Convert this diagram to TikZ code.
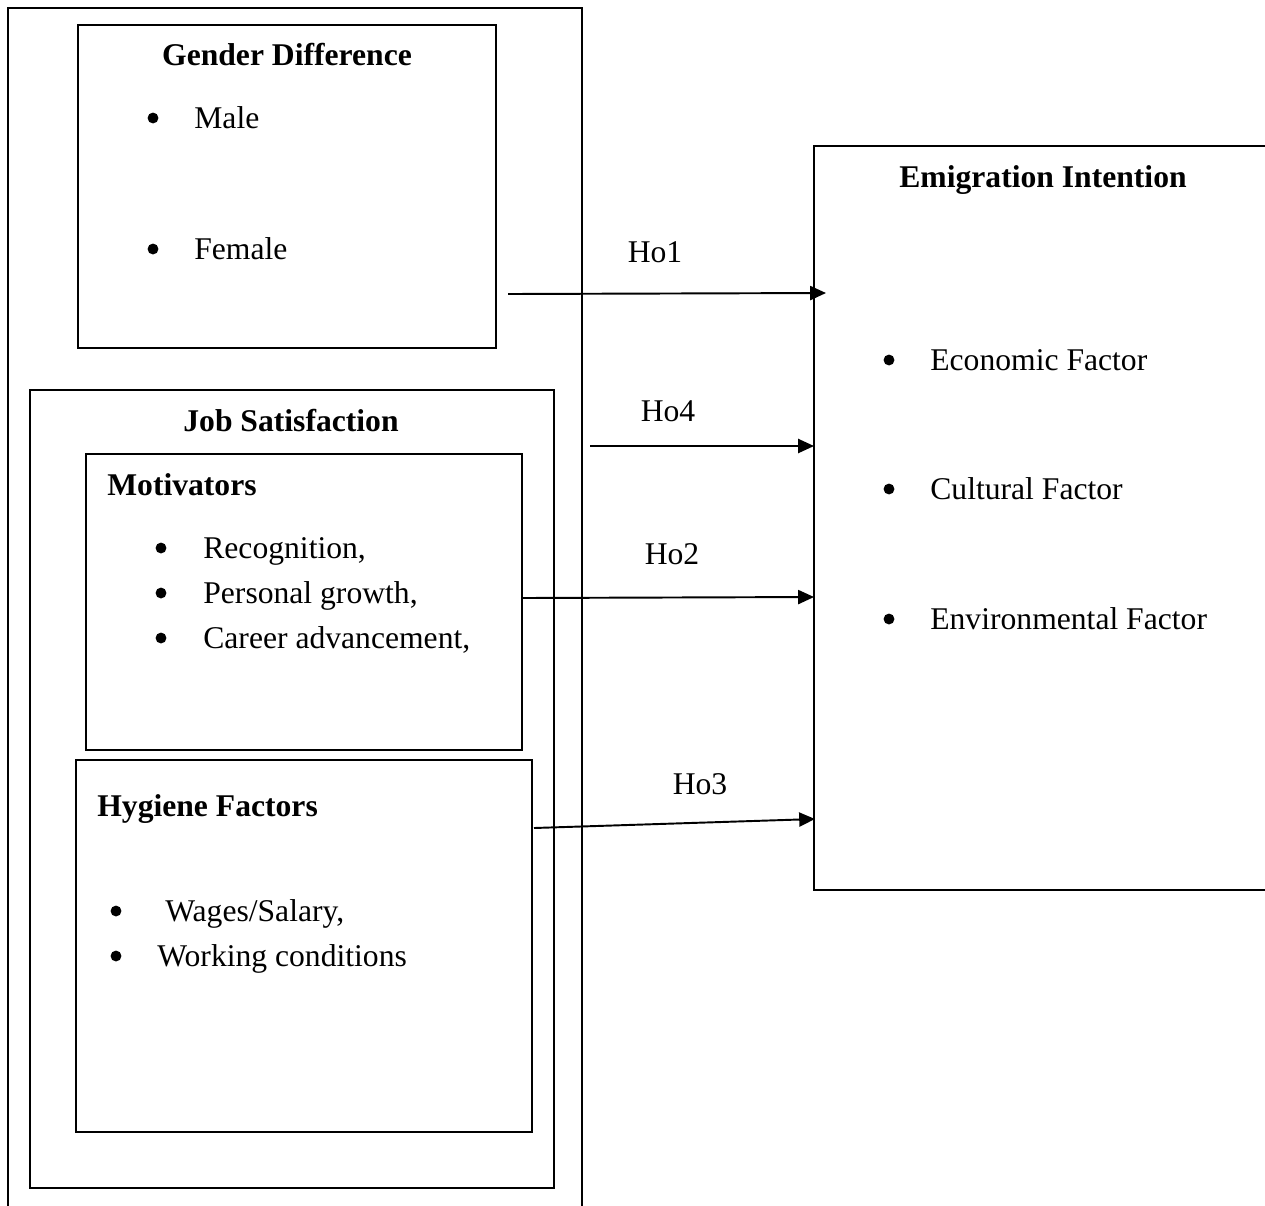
\documentclass[tikz,border=0pt]{standalone}
\usepackage{fontspec}
\setmainfont{Liberation Serif}
\usetikzlibrary{arrows.meta}

\begin{document}
\begin{tikzpicture}[x=0.02cm,y=-0.02cm,
   box/.style={draw=black,line width=1.1pt},
   heading/.style={font=\fontsize{18}{22}\selectfont\bfseries,inner sep=0pt,anchor=base},
   item/.style={font=\fontsize{18}{22}\selectfont,inner sep=0pt,anchor=base west},
   dot/.style={circle,fill=black,inner sep=0pt,minimum size=6.2pt},
   hyp/.style={font=\fontsize{18}{22}\selectfont,inner sep=0pt,anchor=base},
   link/.style={-{Triangle[length=9pt,width=8pt]},line width=1.1pt}]
   \useasboundingbox (0,0) rectangle (1265,1205);
   \clip (0,0) rectangle (1265,1205);
   % \draw[help lines,step=50] (0,0) grid (1265,1205);
   % outer frame, open at the bottom
   \draw[box] (8,1220) -- (8,8) -- (582,8) -- (582,1220);
   % left side boxes
   \draw[box] (78,25) rectangle (496,348);
   \draw[box] (30,390) rectangle (554,1188);
   \draw[box] (86,454) rectangle (522,750);
   \draw[box] (76,760) rectangle (532,1132);
   % right box, open at the right
   \draw[box] (1280,146) -- (814,146) -- (814,890) -- (1280,890);

   % Gender Difference
   \node[heading] (gender) at (287,65) {Gender Difference};
   \node[dot] (d1) at (153,118) {};
   \node[item] (male) at (194,128) {Male};
   \node[dot] (d2) at (153,249) {};
   \node[item] (female) at (194,259) {Female};

   % Job Satisfaction
   \node[heading] (job) at (291,431) {Job Satisfaction};
   \node[heading,anchor=base west] (motiv) at (107,495) {Motivators};
   \node[dot] (d3) at (161,548) {};
   \node[item] (recog) at (203,558) {Recognition,};
   \node[dot] (d4) at (161,593) {};
   \node[item] (growth) at (203,603) {Personal growth,};
   \node[dot] (d5) at (161,638) {};
   \node[item] (career) at (203,648) {Career advancement,};
   \node[heading,anchor=base west] (hygiene) at (97,816) {Hygiene Factors};
   \node[dot] (d6) at (116,911) {};
   \node[item] (wages) at (165,921) {Wages/Salary,};
   \node[dot] (d7) at (116,956) {};
   \node[item] (working) at (157,966) {Working conditions};

   % Emigration Intention
   \node[heading] (emig) at (1043,187) {Emigration Intention};
   \node[dot] (d8) at (889,360) {};
   \node[item] (econ) at (930,370) {Economic Factor};
   \node[dot] (d9) at (889,489) {};
   \node[item] (cult) at (930,499) {Cultural Factor};
   \node[dot] (d10) at (889,619) {};
   \node[item] (env) at (930,629) {Environmental Factor};

   % hypotheses
   \coordinate (ho1s) at (508,294);
   \coordinate (ho1e) at (826,293);
   \coordinate (ho4s) at (590,446);
   \coordinate (ho4e) at (814,446);
   \coordinate (ho2s) at (522,598);
   \coordinate (ho2e) at (814,597);
   \coordinate (ho3s) at (534,828);
   \coordinate (ho3e) at (815,819);
   \draw[link] (ho1s) -- (ho1e);
   \draw[link] (ho4s) -- (ho4e);
   \draw[link] (ho2s) -- (ho2e);
   \draw[link] (ho3s) -- (ho3e);
   \node[hyp] (h1) at (655,262) {Ho1};
   \node[hyp] (h4) at (668,421) {Ho4};
   \node[hyp] (h2) at (672,564) {Ho2};
   \node[hyp] (h3) at (700,794) {Ho3};
\end{tikzpicture}
\end{document}
